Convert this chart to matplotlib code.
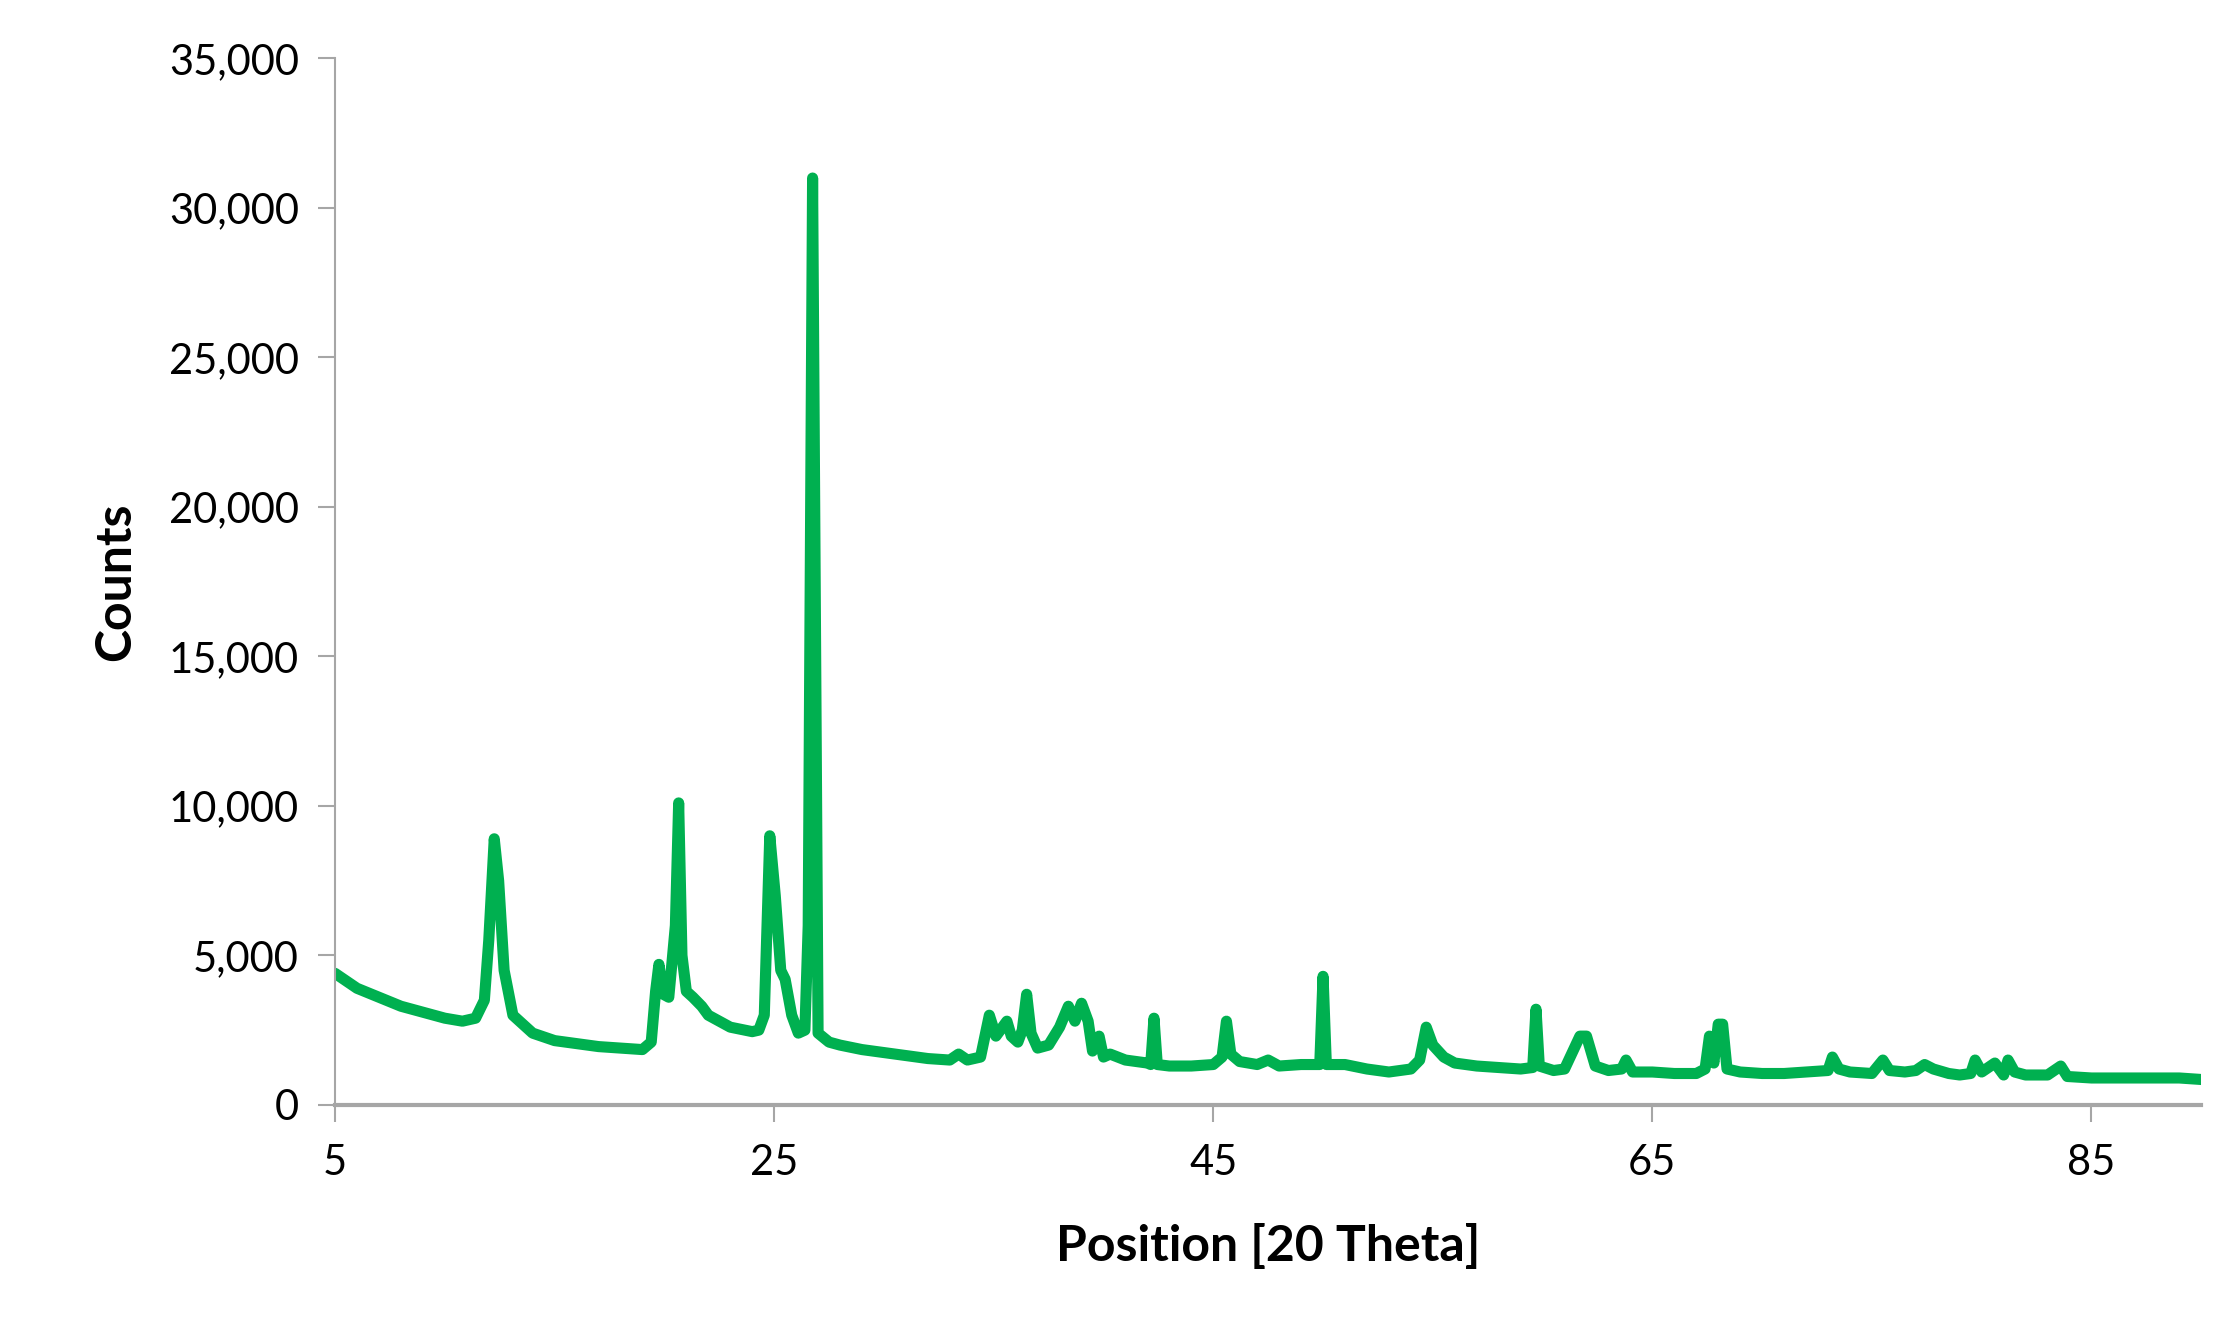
import matplotlib
matplotlib.use("Agg")
import matplotlib.pyplot as plt
from matplotlib.ticker import FuncFormatter

points = [(5,4400),(6,3900),(7,3600),(8,3300),(9,3100),(10,2900),(10.8,2800),(11.4,2900),(11.8,3500),
(12.0,5500),(12.25,8900),(12.45,7500),(12.7,4500),(13.1,3000),(14,2400),(15,2150),(16,2050),(17,1950),
(18,1900),(19,1850),(19.4,2100),(19.6,3800),(19.75,4700),(19.95,3700),(20.2,3600),(20.5,6000),(20.65,10100),
(20.8,5000),(21.0,3800),(21.3,3600),(21.7,3300),(22,3000),(23,2600),(24,2450),(24.3,2500),(24.55,3000),
(24.8,9000),(25.05,7000),(25.3,4500),(25.5,4200),(25.8,3000),(26.1,2400),(26.4,2500),(26.55,6000),
(26.75,31000),(27.0,2400),(27.5,2100),(28,2000),(29,1850),(30,1750),(31,1650),(32,1550),(33,1500),
(33.4,1700),(33.8,1500),(34.4,1600),(34.8,3000),(35.1,2300),(35.6,2800),(35.8,2300),(36.1,2100),
(36.3,2500),(36.5,3700),(36.7,2400),(37,1900),(37.5,2000),(38.0,2600),(38.4,3300),(38.7,2800),
(39.0,3400),(39.3,2800),(39.5,1800),(39.8,2300),(40.0,1600),(40.3,1700),(41,1500),(42,1400),
(42.15,1350),(42.3,2900),(42.45,1350),(43,1300),(44,1300),(45,1350),(45.4,1600),(45.6,2800),
(45.8,1700),(46.2,1450),(47,1350),(47.5,1500),(48,1300),(49,1350),(49.85,1350),(50.0,4300),
(50.15,1350),(51,1350),(52,1200),(53,1100),(54,1200),(54.4,1500),(54.7,2600),(55,2000),(55.5,1600),
(56,1400),(57,1300),(58,1250),(59,1200),(59.55,1250),(59.7,3200),(59.85,1300),(60.5,1150),(61,1200),
(61.7,2300),(62.0,2300),(62.4,1300),(63,1150),(63.6,1200),(63.8,1500),(64.1,1100),(65,1100),(66,1050),
(67,1050),(67.4,1200),(67.6,2300),(67.8,1400),(68.0,2700),(68.2,2700),(68.4,1200),(69,1100),(70,1050),
(71,1050),(72,1100),(73,1150),(73.2,1600),(73.5,1200),(74,1100),(75,1050),(75.5,1500),(75.8,1150),
(76.5,1100),(77,1150),(77.4,1350),(77.8,1200),(78.5,1050),(79,1000),(79.5,1050),(79.7,1500),(80,1100),
(80.6,1400),(81,1000),(81.2,1500),(81.5,1100),(82,1000),(83,1000),(83.6,1300),(83.9,950),(85,900),
(86,900),(87,900),(88,900),(89,900),(90,850)]
positions = [p[0] for p in points]
counts = [p[1] for p in points]

fig = plt.figure(figsize=(22.19, 13.28), dpi=100)
ax = fig.add_axes([0.151, 0.168, 0.841, 0.788])
ax.plot(positions, counts, color="#00B050", lw=8, solid_joinstyle="round", solid_capstyle="round")
ax.set_xlim(5, 90)
ax.set_ylim(0, 35000)
ax.set_xticks([5, 25, 45, 65, 85])
ax.set_yticks(range(0, 35001, 5000))
ax.yaxis.set_major_formatter(FuncFormatter(lambda v, p: f"{int(v):,}"))
for s in ["top", "right"]:
    ax.spines[s].set_visible(False)
ax.spines["left"].set_color("#A6A6A6")
ax.spines["left"].set_linewidth(1.5)
ax.spines["bottom"].set_color("#A6A6A6")
ax.spines["bottom"].set_linewidth(3)
ax.tick_params(axis="y", colors="#A6A6A6", length=12, width=1.5, labelcolor="black", labelsize=30, pad=14)
ax.tick_params(axis="x", colors="#A6A6A6", length=12, width=1.5, labelcolor="black", labelsize=30, pad=16, direction="out")
for t in ax.get_xticklabels() + ax.get_yticklabels():
    t.set_family("Lato")
ax.set_xlabel("Position [20 Theta]", fontsize=36, fontweight="bold", family="Lato", labelpad=30)
ax.set_ylabel("Counts", fontsize=36, fontweight="bold", family="Lato", labelpad=22)
fig.savefig("out.png", dpi=100)
